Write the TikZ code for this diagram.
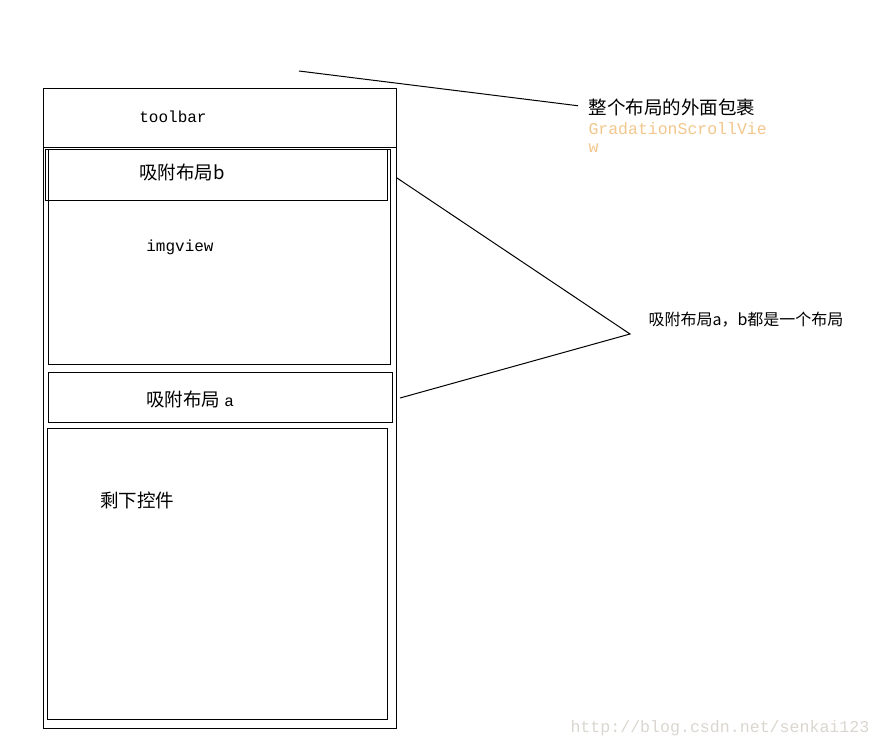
\documentclass[tikz,border=0pt]{standalone}
\usepackage{fontspec}
\setmainfont{Liberation Serif}
\setmonofont{Liberation Mono}
\newfontfamily\cjk{Noto Sans CJK SC}
\usetikzlibrary{positioning}
\definecolor{viewgold}{HTML}{F2C68C}
\definecolor{markgray}{HTML}{DAD6CF}

\begin{document}
\begin{tikzpicture}[x=1pt, y=-1pt, line width=1pt,
  panel/.style={draw, inner sep=0pt},
  cnlabel/.style={font=\cjk\fontsize{18.5}{20}\selectfont, inner sep=0pt},
  cnsmall/.style={font=\cjk\fontsize{16}{18}\selectfont, inner sep=0pt},
  codelabel/.style={font=\ttfamily\fontsize{16}{18}\selectfont, inner sep=0pt}]

\useasboundingbox (0,0) rectangle (882,748);

% Outer wrapper and toolbar
\node[panel, minimum width=353pt, minimum height=640pt] (wrap) at (219.5,408) {};
\draw (43,147) -- (396,147);
\node[codelabel] (toolbar) at (173,117) {toolbar};

% Image view with sticky layout b
\node[panel, minimum width=342pt, minimum height=215pt] (imgbox) at (219,256.5) {};
\node[panel, minimum width=342pt, minimum height=51pt] (stickb) at (216,174.5) {};
\node[cnlabel] (stickbtext) at (182,172) {吸附布局b};
\node[codelabel] (imgview) at (180,247) {imgview};

% Sticky layout a
\node[panel, minimum width=344pt, minimum height=50pt] (sticka) at (220,397) {};
\node[cnlabel] (stickatext) at (190,399) {吸附布局 {\ttfamily\fontsize{16}{18}\selectfont a}};

% Remaining widgets
\node[panel, minimum width=340pt, minimum height=291pt] (rest) at (217,573.5) {};
\node[cnlabel] (resttext) at (137,500) {剩下控件};

% Wrapper label
\node[cnlabel, anchor=west] (wraplabel) at (588,107) {整个布局的外面包裹};
\node[codelabel, font=\ttfamily\fontsize{16.5}{18}\selectfont, text=viewgold,
  anchor=north west, align=left] (wrapview)
  at (588,122) {GradationScrollVie\\[0pt]w};
\coordinate (wraptip) at (299,71);
\draw[shorten >=10pt] (wraptip) -- (wraplabel.west);

% Both sticky layouts
\coordinate (apex) at (630,334);
\coordinate (bend) at (397,178);
\coordinate (aend) at (400,398);
\node[cnsmall, anchor=west] (samelabel) at (648,320) {吸附布局a，b都是一个布局};
\draw (bend) -- (apex) -- (aend);

% Watermark
\node[codelabel, font=\ttfamily\fontsize{16.6}{18}\selectfont, text=markgray,
  anchor=west] (mark) at (570,728) {http://blog.csdn.net/senkai123};

\end{tikzpicture}
\end{document}
